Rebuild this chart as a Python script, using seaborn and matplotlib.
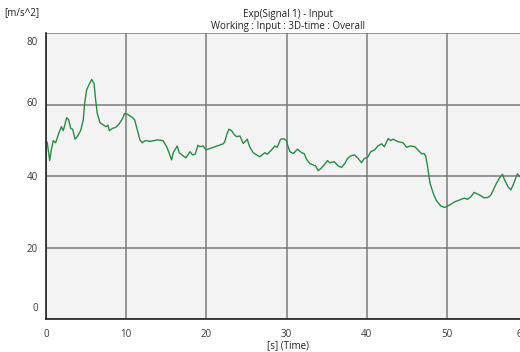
import numpy as np
import pandas as pd
import matplotlib
matplotlib.use("Agg")
import matplotlib.pyplot as plt
from matplotlib.transforms import ScaledTranslation
import seaborn as sns

time_s = [0.0, 0.16, 0.46, 0.66, 0.91, 1.2, 1.62, 1.91, 2.16, 2.58, 2.83, 3.08, 3.33, 3.62, 3.9,
          4.32, 4.65, 4.82, 5.07, 5.36, 5.7, 5.99, 6.19, 6.4, 6.73, 7.15, 7.48, 7.73, 7.9, 8.27,
          8.69, 9.1, 9.51, 9.81, 10.14, 10.47, 10.76, 11.06, 11.39, 11.72, 12.0, 12.4, 13.05, 13.9,
          14.6, 15.05, 15.38, 15.67, 15.87, 16.37, 16.62, 17.12, 17.46, 17.96, 18.29, 18.62, 18.95,
          19.2, 19.6, 19.95, 20.45, 21.07, 21.7, 22.1, 22.3, 22.53, 22.82, 23.15, 23.44, 23.77,
          24.2, 24.6, 25.1, 25.4, 25.85, 26.27, 26.68, 27.3, 27.6, 28.14, 28.55, 28.84, 29.26,
          29.68, 30.0, 30.13, 30.42, 30.84, 31.38, 31.88, 32.2, 32.5, 32.9, 33.33, 33.63, 33.95,
          34.3, 34.7, 35.1, 35.4, 35.95, 36.45, 36.87, 37.28, 37.6, 38.0, 38.5, 38.94, 39.36, 39.7,
          40.1, 40.52, 41.0, 41.4, 41.85, 42.2, 42.7, 43.0, 43.3, 43.9, 44.55, 44.97, 45.4, 46.0,
          46.4, 46.85, 47.17, 47.38, 47.6, 47.9, 48.3, 48.7, 49.25, 49.75, 50.37, 51.0, 51.6,
          52.15, 52.6, 53.0, 53.4, 53.8, 54.24, 54.65, 55.15, 55.5, 55.8, 56.2, 56.6, 56.94, 57.2,
          57.64, 57.98, 58.27, 58.6, 58.8, 59.1, 59.3]
accel = [50.0, 49.3, 44.3, 47.3, 49.9, 49.3, 52.1, 53.8, 52.7, 56.3, 55.7, 53.3, 53.1, 50.3, 51.0,
         52.7, 55.7, 60.3, 64.1, 65.5, 67.0, 65.9, 61.3, 57.5, 54.9, 54.3, 53.8, 54.2, 52.7, 53.3,
         53.6, 54.5, 55.9, 57.5, 57.3, 56.8, 56.4, 55.7, 52.9, 50.1, 49.3, 49.9, 49.7, 50.1,
         49.9, 48.2, 46.3, 44.5, 46.5, 48.4, 46.5, 45.6, 45.1, 46.8, 45.9, 46.1, 48.6,
         48.2, 48.4, 47.3, 47.7, 48.2, 48.7, 49.0, 49.6, 51.5, 53.1, 52.7, 51.7, 51.0,
         51.2, 49.1, 50.3, 48.2, 46.5, 45.9, 45.4, 46.5, 46.1, 47.3, 48.4, 48.0, 50.3,
         50.4, 49.9, 48.7, 46.8, 46.3, 47.5, 46.5, 46.3, 44.7, 43.5, 43.1, 42.8, 41.5,
         42.1, 43.1, 44.3, 43.7, 44.0, 42.8, 42.4, 43.5, 44.9, 45.6, 45.9, 44.9, 43.7, 44.9,
         45.2, 46.8, 47.3, 48.4, 49.0, 48.2, 50.5, 49.9, 50.3, 49.6, 49.3, 48.0, 48.4, 48.2,
         47.3, 46.2, 46.3, 45.4, 42.6, 38.0, 35.2, 33.1, 31.6, 31.2, 31.9, 32.8, 33.3,
         33.8, 33.5, 34.2, 35.4, 35.0, 34.5, 33.9, 34.0, 34.7, 36.1, 38.0, 39.5, 40.5, 38.9,
         37.0, 36.1, 37.5, 39.4, 40.6, 39.8, 40.0]

x_ticks = [0, 10, 20, 30, 40, 50, 60]
y_ticks = [0, 20, 40, 60, 80]
title_lines = ["Exp(Signal 1) - Input", "Working : Input : 3D-time : Overall"]
y_unit = "[m/s^2]"
x_label = "[s] (Time)"

sns.set_theme(style="white")
plt.rcParams["font.family"] = ["Open Sans", "DejaVu Sans"]

W, H = 520, 352
fig = plt.figure(figsize=(W / 100, H / 100), dpi=100)
fig.patch.set_facecolor("white")
L, R, T, B = 46, 527, 33, 319
ax = fig.add_axes([L / W, (H - B) / H, (R - L) / W, (B - T) / H])
ax.set_facecolor("#f3f3f3")

df = pd.DataFrame({"t": time_s, "a": accel})
sns.lineplot(data=df, x="t", y="a", ax=ax, color="#2b8a47", linewidth=1.0)

ax.set_xlim(0, 60)
ax.set_ylim(0, 80)
ax.set_xticks(x_ticks)
ax.set_yticks(y_ticks)
ax.set_xticklabels([str(v) for v in x_ticks])
ax.set_yticklabels([str(v) for v in y_ticks])
ax.grid(True, color="#7a7a7a", linewidth=1.1)
ax.set_axisbelow(True)
for s in ["top", "right"]:
    ax.spines[s].set_visible(False)
for s in ["left", "bottom"]:
    ax.spines[s].set_color("#222222")
    ax.spines[s].set_linewidth(1.2)
ax.tick_params(axis="both", which="major", direction="out", length=4, width=1.0,
               color="#222222", labelsize=7, labelcolor="#3a3a3a")
ax.tick_params(axis="y", pad=2)
ax.tick_params(axis="x", pad=3)
ax.set_xlabel("")
ax.set_ylabel("")

# shift end labels inside like the reference
def shift(lab, dx, dy):
    lab.set_transform(lab.get_transform() + ScaledTranslation(dx / 100, dy / 100, fig.dpi_scale_trans))

for lab in ax.get_yticklabels():
    txt = lab.get_text()
    if txt == "80":
        shift(lab, 0, -8)
    elif txt == "0":
        shift(lab, 0, 12)
    elif txt == "60":
        shift(lab, 0, 2)
for lab in ax.get_xticklabels():
    if lab.get_text() == "60":
        shift(lab, -5, 0)

cx = 288
fig.text(cx / W, 1 - 14 / H, title_lines[0], ha="center", va="center", fontsize=7, color="#222222")
fig.text(cx / W, 1 - 27 / H, title_lines[1], ha="center", va="center", fontsize=7, color="#222222")
fig.text(22 / W, 1 - 13 / H, y_unit, ha="center", va="center", fontsize=7, color="#222222")
fig.text(cx / W, 1 - 346 / H, x_label, ha="center", va="center", fontsize=7, color="#222222")

fig.savefig("out.png", dpi=100)
